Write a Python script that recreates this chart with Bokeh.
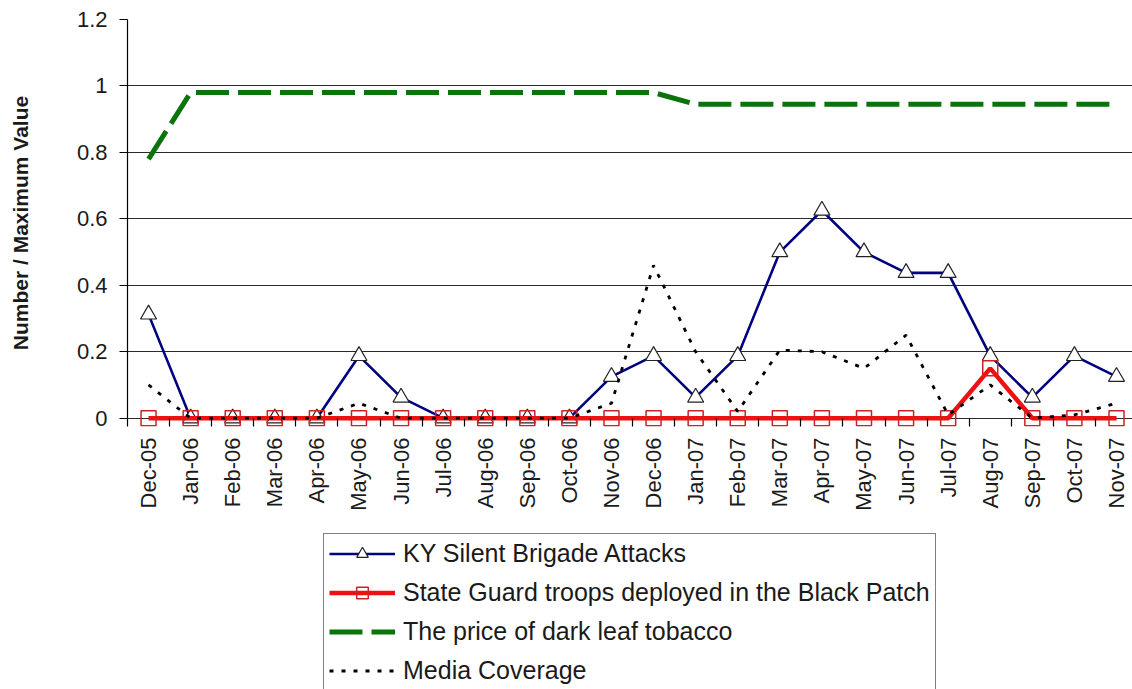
import math
from bokeh.plotting import figure
from bokeh.layouts import column
from bokeh.models import FixedTicker, Range1d, Legend, LegendItem, CustomJSTickFormatter
from bokeh.embed import file_html
from bokeh.resources import INLINE

months = ["Dec-05", "Jan-06", "Feb-06", "Mar-06", "Apr-06", "May-06", "Jun-06",
          "Jul-06", "Aug-06", "Sep-06", "Oct-06", "Nov-06", "Dec-06", "Jan-07",
          "Feb-07", "Mar-07", "Apr-07", "May-07", "Jun-07", "Jul-07", "Aug-07",
          "Sep-07", "Oct-07", "Nov-07"]
attacks = [0.3125, 0, 0, 0, 0, 0.1875, 0.0625, 0, 0, 0, 0, 0.125,
           0.1875, 0.0625, 0.1875, 0.5, 0.625, 0.5, 0.4375, 0.4375, 0.1875,
           0.0625, 0.1875, 0.125]
troops = [0, 0, 0, 0, 0, 0, 0, 0, 0, 0, 0, 0,
          0, 0, 0, 0, 0, 0, 0, 0, 0.15, 0, 0, 0]
price = [0.78, 0.98, 0.98, 0.98, 0.98, 0.98, 0.98, 0.98, 0.98, 0.98, 0.98, 0.98,
         0.98, 0.945, 0.945, 0.945, 0.945, 0.945, 0.945, 0.945, 0.945, 0.945,
         0.945, 0.945]
media = [0.1, 0, 0, 0, 0, 0.045, 0, 0, 0, 0, 0, 0.045,
         0.46, 0.2, 0.02, 0.205, 0.2, 0.15, 0.25, 0.01, 0.1, 0, 0.01, 0.045]
y_ticks = [0, 0.2, 0.4, 0.6, 0.8, 1.0, 1.2]
series_names = ["KY Silent Brigade Attacks",
                "State Guard troops deployed in the Black Patch",
                "The price of dark leaf tobacco",
                "Media Coverage"]

x = list(range(len(months)))
FONT = "Liberation Sans"

# styles per series
STY_ATT_LINE = dict(line_color="#000080", line_width=2.6)
STY_ATT_MARK = dict(marker="triangle", size=16, fill_color="white", line_color="#222222", line_width=1.2)
STY_TRP_LINE = dict(line_color="#ee1111", line_width=4.5)
STY_TRP_MARK = dict(marker="square", size=15, fill_color=None, line_color="#cc2222", line_width=1.5)
STY_PRC_LINE = dict(line_color="#0a730a", line_width=5, line_dash="33 9")
STY_MED_LINE = dict(line_color="black", line_width=2.8, line_dash="4 8")

p = figure(width=1132, height=530,
           x_range=Range1d(-0.5, 23.38), y_range=Range1d(-0.025, 1.2),
           output_backend="svg", toolbar_location=None,
           min_border_left=127, min_border_right=0,
           min_border_top=19, min_border_bottom=104)
p.outline_line_color = None
p.background_fill_color = "white"
p.border_fill_color = "white"

# grid
p.xgrid.grid_line_color = None
p.ygrid.ticker = FixedTicker(ticks=y_ticks)
p.ygrid.grid_line_color = "#2a2a2a"
p.ygrid.grid_line_width = 1.2

# y axis
p.yaxis.ticker = FixedTicker(ticks=y_ticks)
p.yaxis.formatter = CustomJSTickFormatter(code="return tick.toFixed(1).replace(/\\.0$/, '');")
p.yaxis.bounds = (0, 1.2)
p.yaxis.axis_line_color = "black"
p.yaxis.axis_line_width = 1.2
p.yaxis.major_tick_out = 8
p.yaxis.major_tick_in = 0
p.yaxis.major_tick_line_color = "black"
p.yaxis.minor_tick_line_color = None
p.yaxis.major_label_standoff = 12
p.yaxis.major_label_text_font = FONT
p.yaxis.major_label_text_font_size = "22px"
p.yaxis.major_label_text_color = "#1a1a1a"
p.yaxis.axis_label = "Number / Maximum Value"
p.yaxis.axis_label_text_font = FONT
p.yaxis.axis_label_text_font_style = "bold"
p.yaxis.axis_label_text_font_size = "21px"
p.yaxis.axis_label_text_color = "#1a1a1a"
p.yaxis.axis_label_standoff = 42

# x axis (sits at frame bottom; ticks reach up to the zero line)
p.xaxis.ticker = FixedTicker(ticks=x, minor_ticks=[i - 0.5 for i in range(len(months) + 1)])
p.xaxis.major_label_overrides = {i: m for i, m in enumerate(months)}
p.xaxis.major_label_orientation = math.pi / 2
p.xaxis.major_tick_line_color = None
p.xaxis.major_tick_out = 0
p.xaxis.major_tick_in = 0
p.xaxis.minor_tick_line_color = "black"
p.xaxis.minor_tick_line_width = 1.2
p.xaxis.minor_tick_out = 0
p.xaxis.minor_tick_in = 8
p.xaxis.axis_line_color = None
p.xaxis.major_label_standoff = 11
p.xaxis.major_label_text_font = FONT
p.xaxis.major_label_text_font_size = "22px"
p.xaxis.major_label_text_color = "#1a1a1a"

# series
p.line(x, attacks, **STY_ATT_LINE)
p.scatter(x, attacks, **STY_ATT_MARK)
p.line(x, troops, **STY_TRP_LINE)
p.scatter(x, troops, **STY_TRP_MARK)
p.line(x, price, **STY_PRC_LINE)
p.line(x, media, **STY_MED_LINE)

# legend panel below the chart (same glyph styles as the series)
lg = figure(width=1132, height=159, x_range=Range1d(0, 1), y_range=Range1d(0, 1),
            output_backend="svg", toolbar_location=None,
            x_axis_location=None, y_axis_location=None,
            min_border_left=0, min_border_right=0, min_border_top=0, min_border_bottom=0)
lg.outline_line_color = None
lg.grid.grid_line_color = None
lg.background_fill_color = "white"
lg.border_fill_color = "white"
hx, hy = [-5], [-5]
a1 = lg.line(hx, hy, **STY_ATT_LINE)
a2 = lg.scatter(hx, hy, **STY_ATT_MARK)
b1 = lg.line(hx, hy, **STY_TRP_LINE)
b2 = lg.scatter(hx, hy, **STY_TRP_MARK)
c1 = lg.line(hx, hy, **STY_PRC_LINE)
d1 = lg.line(hx, hy, **STY_MED_LINE)

legend = Legend(items=[
    LegendItem(label=series_names[0], renderers=[a1, a2]),
    LegendItem(label=series_names[1], renderers=[b1, b2]),
    LegendItem(label=series_names[2], renderers=[c1]),
    LegendItem(label=series_names[3], renderers=[d1]),
], location=(196, -2))
legend.label_text_font = FONT
legend.label_text_font_size = "25px"
legend.label_text_color = "#1a1a1a"
legend.label_height = 29
legend.glyph_height = 29
legend.glyph_width = 66
legend.label_standoff = 8
legend.spacing = 10
legend.padding = 5
legend.margin = 0
legend.border_line_color = "black"
legend.border_line_width = 1.2
legend.background_fill_color = "white"
legend.background_fill_alpha = 1.0
lg.add_layout(legend, "center")

layout = column(p, lg, spacing=0)
open("out.html", "w").write(file_html(layout, INLINE))
